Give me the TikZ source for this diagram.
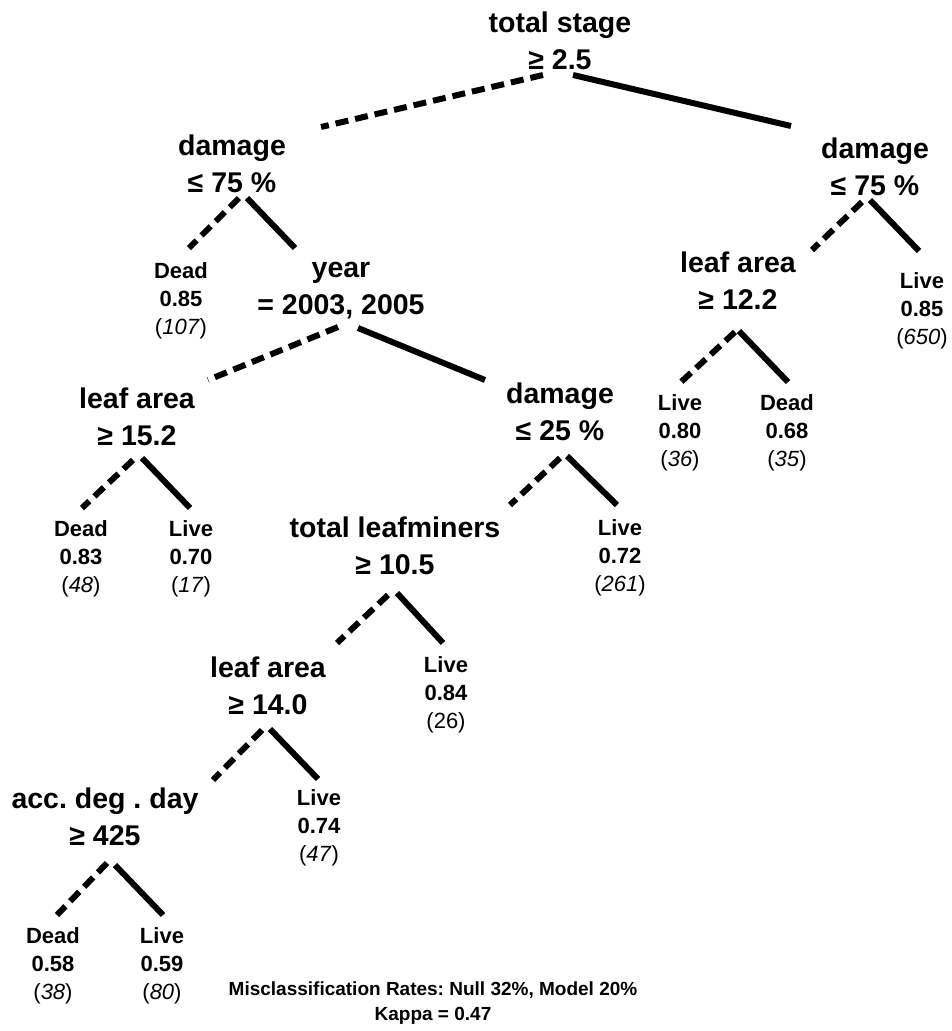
\documentclass[tikz,border=0pt]{standalone}
\usepackage{fontspec}
\setmainfont{Liberation Sans}
\frenchspacing
% two-line split label, anchored on the baseline of its first line
\newcommand\splitlabel[2]{\begin{tabular}[t]{@{}c@{}}#1\\#2\end{tabular}}
% three-line terminal label: class, probability, (count)
\newcommand\leaflabel[3]{\begin{tabular}[t]{@{}c@{}}\textbf{#1}\\\textbf{#2}\\(\textit{#3})\end{tabular}}
\newcommand\leaflabelup[3]{\begin{tabular}[t]{@{}c@{}}\textbf{#1}\\\textbf{#2}\\(#3)\end{tabular}}
\begin{document}
\begin{tikzpicture}[x=1pt,y=-1pt,
  split/.style={inner sep=0pt, anchor=base, font=\fontsize{28.5}{37.5}\selectfont\bfseries},
  leafnode/.style={inner sep=0pt, anchor=base, font=\fontsize{22}{28}\selectfont},
  note/.style={inner sep=0pt, anchor=base, font=\fontsize{19}{25}\selectfont\bfseries},
  branch/.style={line width=6pt},
  yesbranch/.style={branch},
  nobranch/.style={branch, dash pattern=on 13pt off 7pt}]
\useasboundingbox (0,0) rectangle (952,1031);

% splits
\node[split] (root)   at (560,32)  {\splitlabel{total stage}{≥ 2.5}};
\node[split] (dmgL)   at (232,155) {\splitlabel{damage}{≤ 75 \%}};
\node[split] (dmgR)   at (875,158) {\splitlabel{damage}{≤ 75 \%}};
\node[split] (year)   at (341,277) {\splitlabel{year}{= 2003, 2005}};
\node[split] (leafR)  at (738,272) {\splitlabel{leaf area}{≥ 12.2}};
\node[split] (leafL)  at (137,408) {\splitlabel{leaf area}{≥ 15.2}};
\node[split] (dmg25)  at (560,403) {\splitlabel{damage}{≤ 25 \%}};
\node[split] (tlm)    at (395,537) {\splitlabel{total leafminers}{≥ 10.5}};
\node[split] (leaf14) at (268,677) {\splitlabel{leaf area}{≥ 14.0}};
\node[split] (acc)    at (105,808) {\splitlabel{acc. deg . day}{≥ 425}};

% terminal nodes
\node[leafnode] (d107) at (181,278) {\leaflabel{Dead}{0.85}{107}};
\node[leafnode] (l650) at (922,288) {\leaflabel{Live}{0.85}{650}};
\node[leafnode] (l36)  at (680,410) {\leaflabel{Live}{0.80}{36}};
\node[leafnode] (d35)  at (787,410) {\leaflabel{Dead}{0.68}{35}};
\node[leafnode] (d48)  at (81,536)  {\leaflabel{Dead}{0.83}{48}};
\node[leafnode] (l17)  at (191,536) {\leaflabel{Live}{0.70}{17}};
\node[leafnode] (l261) at (620,535) {\leaflabel{Live}{0.72}{261}};
\node[leafnode] (l26)  at (446,672) {\leaflabelup{Live}{0.84}{26}};
\node[leafnode] (l47)  at (319,805) {\leaflabel{Live}{0.74}{47}};
\node[leafnode] (d38)  at (53,943)  {\leaflabel{Dead}{0.58}{38}};
\node[leafnode] (l80)  at (162,943) {\leaflabel{Live}{0.59}{80}};

% summary
\node[note] (rates) at (433,995)  {Misclassification Rates: Null 32\%, Model 20\%};
\node[note] (kappa) at (433,1020) {Kappa = 0.47};

% branches: dashed = condition true (left), solid = false (right)
\draw[nobranch]  ([shift={(-17,43)}]root.base)  -- ([shift={(89,-28)}]dmgL.base);
\draw[yesbranch] ([shift={(13,43)}]root.base)   -- ([shift={(-84,-32)}]dmgR.base);
\draw[nobranch]  ([shift={(7,43)}]dmgL.base)    -- ([shift={(8,-30)}]d107.base);
\draw[yesbranch] ([shift={(15,43)}]dmgL.base)   -- ([shift={(-46,-29)}]year.base);
\draw[nobranch]  ([shift={(-13,44)}]dmgR.base)  -- ([shift={(74,-22)}]leafR.base);
\draw[yesbranch] ([shift={(-5,42)}]dmgR.base)   -- ([shift={(-3,-37)}]l650.base);
\draw[nobranch]  ([shift={(-3,50)}]year.base)   -- ([shift={(71,-28)}]leafL.base);
\draw[yesbranch] ([shift={(17,51)}]year.base)   -- ([shift={(-75,-23)}]dmg25.base);
\draw[nobranch]  ([shift={(-3,60)}]leafR.base)  -- ([shift={(1,-28)}]l36.base);
\draw[yesbranch] ([shift={(1,59)}]leafR.base)   -- ([shift={(1,-28)}]d35.base);
\draw[nobranch]  ([shift={(-4,52)}]leafL.base)  -- ([shift={(1,-28)}]d48.base);
\draw[yesbranch] ([shift={(5,50)}]leafL.base)   -- ([shift={(-1,-28)}]l17.base);
\draw[nobranch]  ([shift={(0,55)}]dmg25.base)   -- ([shift={(115,-32)}]tlm.base);
\draw[yesbranch] ([shift={(7,53)}]dmg25.base)   -- ([shift={(-3,-30)}]l261.base);
\draw[nobranch]  ([shift={(-7,58)}]tlm.base)    -- ([shift={(69,-34)}]leaf14.base);
\draw[yesbranch] ([shift={(2,56)}]tlm.base)     -- ([shift={(-3,-29)}]l26.base);
\draw[nobranch]  ([shift={(-6,53)}]leaf14.base) -- ([shift={(108,-28)}]acc.base);
\draw[yesbranch] ([shift={(2,52)}]leaf14.base)  -- ([shift={(-1,-26)}]l47.base);
\draw[nobranch]  ([shift={(2,55)}]acc.base)     -- ([shift={(4,-28)}]d38.base);
\draw[yesbranch] ([shift={(10,57)}]acc.base)    -- ([shift={(1,-28)}]l80.base);
\end{tikzpicture}
\end{document}
